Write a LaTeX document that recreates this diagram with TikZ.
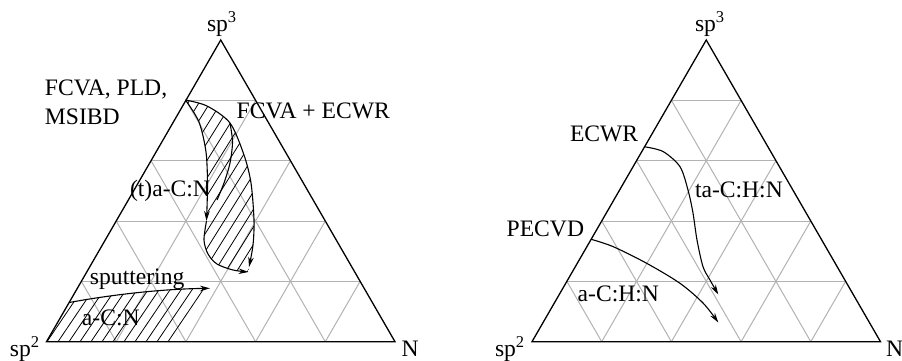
\documentclass[tikz,border=0pt]{standalone}
\usepackage{fontspec}
\setmainfont{Liberation Serif}
\usetikzlibrary{arrows.meta}
\begin{document}
\begin{tikzpicture}[x=0.5pt,y=-0.5pt,
  gridline/.style={draw=black!30,line width=0.5pt},
  edge/.style={draw=black,line width=0.65pt,line join=miter},
  flow/.style={draw=black,line width=0.55pt,-{Stealth[length=5pt,width=2.8pt]}},
  plainline/.style={draw=black,line width=0.55pt},
  hatch/.style={draw=black,line width=0.4pt},
  lbl/.style={anchor=base west,inner sep=0pt,outer sep=0pt,font=\fontsize{11.8}{14}\selectfont}]
\useasboundingbox (0,0) rectangle (902,360);
% grids
\foreach \bx in {46.5,532}{
  \foreach \k in {1,...,4}{
    \draw[gridline] ({\bx+\k*34.85},{341.7-\k*60.34}) -- ({\bx+348.5-\k*34.85},{341.7-\k*60.34});
    \draw[gridline] ({\bx+\k*69.7},341.7) -- ({\bx+\k*69.7+(5-\k)*34.85},{341.7-(5-\k)*60.34});
    \draw[gridline] ({\bx+\k*69.7},341.7) -- ({\bx+\k*34.85},{341.7-\k*60.34});
  }
}
% corners
\coordinate (L2) at (46.5,341.7); \coordinate (LN) at (395,341.7); \coordinate (L3) at (220.75,40);
\coordinate (R2) at (532,341.7); \coordinate (RN) at (880.5,341.7); \coordinate (R3) at (706.25,40);
% hatch a-C:N
\begin{scope}
\clip (46.5,341.7) -- (169.8,341.7) -- (205.5,288.4) .. controls (160,289) and (110,295) .. (69.2,302.5) -- cycle;
\foreach \i in {0,...,11} \draw[hatch] ({168-\i*11},341.7) -- ++(60,-88.8);
\end{scope}
% hatch FCVA
\begin{scope}
\clip plot[smooth] coordinates {(185.5,100) (199,122) (206,152) (207.5,185) (206.5,221)}
  -- plot[smooth] coordinates {(206.5,221) (204,240) (208,254) (217,264) (233,270) (248.5,272)}
  -- plot[smooth] coordinates {(249,267) (253,245) (254,220) (251,183) (244,155) (230,123) (207,106) (185.5,100)} -- cycle;
\foreach \i in {0,...,19} \draw[hatch] ({60+\i*11},290) -- ++(125,-200);
\end{scope}
% triangles
\draw[edge] (L2) -- (LN) -- (L3) -- cycle;
\draw[edge] (R2) -- (RN) -- (R3) -- cycle;
% left curves
\coordinate (fs) at (185.5,100);
\coordinate (fm) at (206.5,221);
\coordinate (fe) at (248.5,272);
\coordinate (oe) at (249,267);
\coordinate (ss) at (69.2,302.5);
\coordinate (se) at (210,288.3);
\draw[flow] plot[smooth] coordinates {(fs) (199,122) (206,152) (207.5,185) (fm)};
\draw[flow] plot[smooth] coordinates {(fm) (204,240) (208,254) (217,264) (233,270) (fe)};
\draw[flow] plot[smooth] coordinates {(fs) (207,106) (230,123) (244,155) (251,183) (254,220) (253,245) (oe)};
\draw[plainline] plot[smooth] coordinates {(230,123) (232.5,142) (230,163) (224,183) (217,200)};
\draw[flow] (ss) .. controls (110,295) and (160,289) .. (se);
% right curves
\coordinate (es) at (644,146.7);
\coordinate (ee) at (718.3,294.5);
\coordinate (ps) at (591.2,239.3);
\coordinate (pe) at (718.3,322.5);
\draw[flow] plot[smooth] coordinates {(es) (663,151.5) (680,166.7) (688,190) (693,213) (697,240) (703,266.7) (710,280) (ee)};
\draw[flow] plot[smooth] coordinates {(ps) (613.3,246.7) (646.7,263.3) (680,283.3) (703.3,303.3) (pe)};
% labels left
\node[lbl] (t3L) at (207,31.7) {sp\textsuperscript{3}};
\node[lbl] (t2L) at (10,356) {sp\textsuperscript{2}};
\node[lbl] (tNL) at (401.7,356) {N};
\node[lbl] (tF1) at (45,95) {FCVA, PLD,};
\node[lbl] (tF2) at (45,124) {MSIBD};
\node[lbl] (tFE) at (236.7,118.3) {FCVA + ECWR};
\node[lbl] (ttaCN) at (130,196) {(t)a-C:N};
\node[lbl] (tsp) at (90,284) {sputtering};
\node[lbl] (taCN) at (82,325.7) {a-C:N};
% labels right
\node[lbl] (t3R) at (695,31.7) {sp\textsuperscript{3}};
\node[lbl] (t2R) at (495,356) {sp\textsuperscript{2}};
\node[lbl] (tNR) at (886.2,356) {N};
\node[lbl] (tEC) at (570,141.7) {ECWR};
\node[lbl] (ttaCHN) at (695,197.3) {ta-C:H:N};
\node[lbl] (tPE) at (506.7,236) {PECVD};
\node[lbl] (taCHN) at (577.7,301.7) {a-C:H:N};
\end{tikzpicture}
\end{document}
